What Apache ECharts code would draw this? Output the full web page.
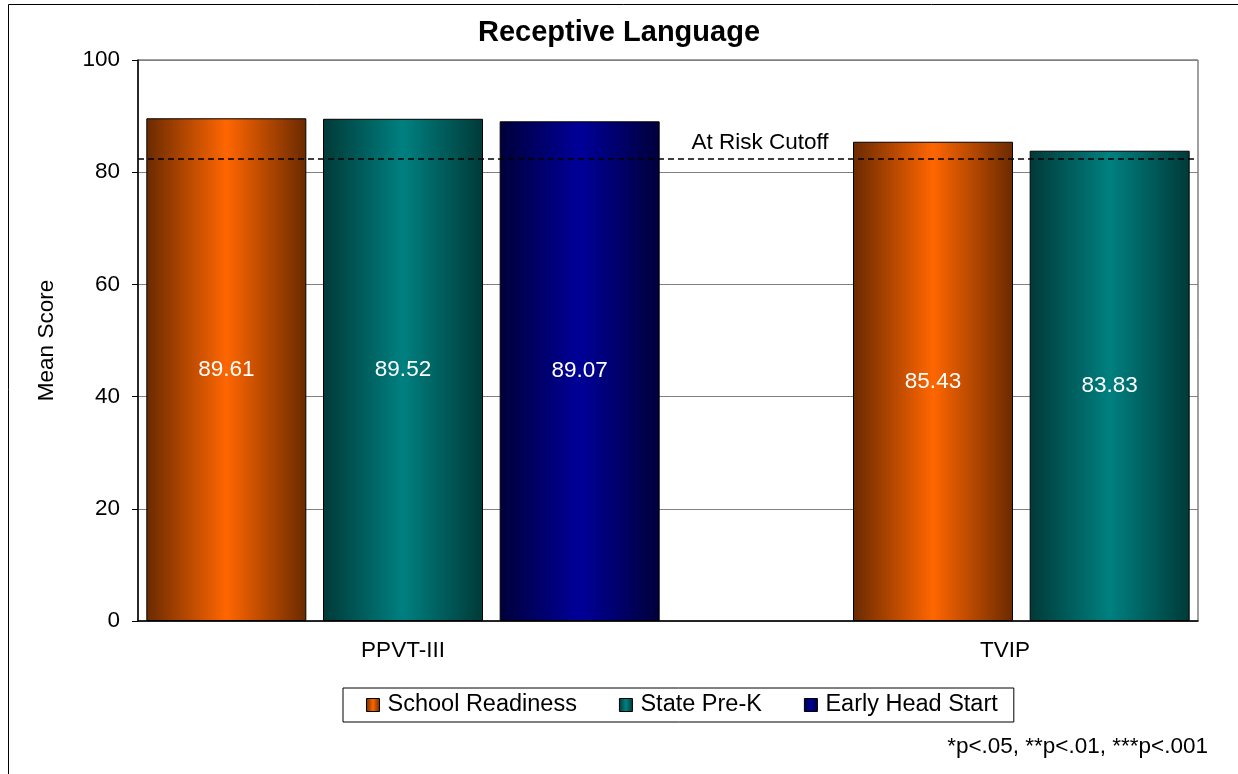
<!DOCTYPE html>
<html>
<head>
<meta charset="utf-8">
<title>Receptive Language</title>
<script src="https://cdn.jsdelivr.net/npm/echarts@6/dist/echarts.min.js"></script>
<style>
  html, body { margin: 0; padding: 0; background: #fff; }
  #chart { width: 1238px; height: 774px; }
</style>
</head>
<body>
<div id="chart"></div>
<script>
// data
var categories = ['PPVT-III', 'TVIP'];
var seriesNames = ['School Readiness', 'State Pre-K', 'Early Head Start'];
var schoolReadiness = [89.61, 85.43];
var statePreK = [89.52, 83.83];
var earlyHeadStart = [89.07, null];
var riskCutoff = 82.4;

// layout: the original sheet puts bars in 6 equal slots (slot 3 empty)
var slotCount = 6;
var slotOf = [[0, 4], [1, 5], [2, null]];

function toSlots(values, slots) {
  var out = [];
  for (var i = 0; i < slotCount; i++) out.push('-');
  values.forEach(function (v, i) {
    if (v != null && slots[i] != null) out[slots[i]] = v;
  });
  return out;
}

function grad(edge, mid) {
  return new echarts.graphic.LinearGradient(0, 0, 1, 0, [
    { offset: 0, color: edge },
    { offset: 0.5, color: mid },
    { offset: 1, color: edge }
  ]);
}

var colors = [
  grad('#6a2a00', '#ff6600'),
  grad('#003a38', '#008080'),
  grad('#00003a', '#000099')
];

var font = 'Liberation Sans, Arial, sans-serif';
var fs = 22.5;
var chart = echarts.init(document.getElementById('chart'));

var series = [schoolReadiness, statePreK, earlyHeadStart].map(function (vals, si) {
  var s = {
    name: seriesNames[si],
    type: 'bar',
    xAxisIndex: 0,
    barWidth: 160,
    barGap: '-100%',
    data: toSlots(vals, slotOf[si]),
    itemStyle: { color: colors[si], borderColor: '#000', borderWidth: 1 },
    label: {
      show: true,
      position: 'inside',
      color: '#fff',
      fontSize: fs,
      fontFamily: font,
      formatter: function (p) { return Number(p.value).toFixed(2); }
    }
  };
  if (si === 0) {
    s.markLine = {
      silent: true,
      symbol: 'none',
      lineStyle: { color: '#000', type: [6, 4], width: 1.5 },
      label: {
        show: true,
        formatter: 'At Risk Cutoff',
        position: 'insideMiddleTop',
        color: '#000',
        fontSize: fs,
        fontFamily: font,
        distance: 4,
        padding: [0, 0, 0, 184]
      },
      data: [{ yAxis: riskCutoff }]
    };
  }
  return s;
});

chart.setOption({
  backgroundColor: '#fff',
  animation: false,
  title: {
    text: 'Receptive Language',
    left: 'center',
    top: 13,
    textStyle: { fontSize: 29, fontWeight: 'bold', color: '#000', fontFamily: font }
  },
  legend: {
    data: seriesNames,
    top: 688,
    left: 343,
    orient: 'horizontal',
    icon: 'rect',
    itemWidth: 13,
    itemHeight: 13,
    itemGap: 42,
    padding: [5, 16, 5, 23],
    borderColor: '#000',
    borderWidth: 1,
    itemStyle: { borderColor: '#000', borderWidth: 1 },
    textStyle: { fontSize: 23.5, color: '#000', fontFamily: font, padding: [0, 0, 0, 3] }
  },
  grid: {
    left: 138,
    right: 40,
    top: 60,
    bottom: 153,
    show: true,
    borderColor: '#404040',
    borderWidth: 1
  },
  xAxis: [
    {
      type: 'category',
      data: ['s0', 's1', 's2', 's3', 's4', 's5'],
      show: false
    },
    {
      type: 'category',
      data: categories,
      position: 'bottom',
      axisLine: { lineStyle: { color: '#000', width: 1.5 } },
      axisTick: { show: false },
      axisLabel: {
        margin: 18,
        fontSize: fs,
        color: '#000',
        fontFamily: font,
        formatter: function (v, i) { return i === 1 ? '{shift|' + v + '}' : v; },
        rich: { shift: { fontSize: fs, color: '#000', fontFamily: font, padding: [0, 0, 0, 144] } }
      }
    }
  ],
  yAxis: {
    type: 'value',
    min: 0,
    max: 100,
    interval: 20,
    name: 'Mean Score',
    nameLocation: 'middle',
    nameGap: 80,
    nameTextStyle: { fontSize: fs, color: '#000', fontFamily: font },
    axisLine: { show: true, lineStyle: { color: '#000', width: 1.5 } },
    axisTick: { show: true, inside: false, length: 6, lineStyle: { color: '#000' } },
    axisLabel: { fontSize: fs, color: '#000', fontFamily: font, margin: 18 },
    splitLine: { show: true, lineStyle: { color: '#808080', width: 1 } }
  },
  graphic: [
    {
      type: 'rect',
      shape: { x: 8.5, y: 4.5, width: 1260, height: 800 },
      style: { fill: 'none', stroke: '#000', lineWidth: 1 },
      silent: true
    },
    {
      type: 'text',
      right: 30,
      top: 735,
      style: { text: '*p<.05, **p<.01, ***p<.001', fontSize: fs, fill: '#000', fontFamily: font }
    }
  ],
  series: series
});
</script>
</body>
</html>
